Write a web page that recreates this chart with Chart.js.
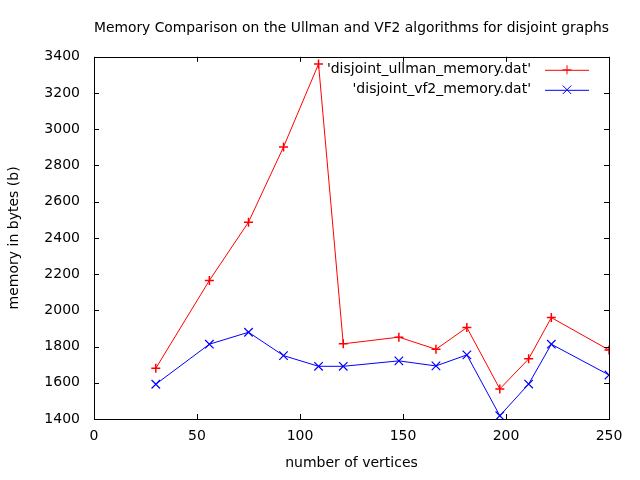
<!DOCTYPE html>
<html>
<head>
<meta charset="utf-8">
<script src="https://cdn.jsdelivr.net/npm/chart.js"></script>
<style>
  html, body { margin: 0; padding: 0; background: #fff; }
  #wrap { width: 640px; height: 480px; }
</style>
</head>
<body>
<div id="wrap"><canvas id="memChart" width="640" height="480"></canvas></div>
<script>
// number of vertices for each run
const vertices = [30, 56, 75, 92, 109, 121, 148, 166, 181, 197, 211, 222, 250];
// memory in bytes
const ullmanMemory = [1680, 2165, 2487, 2902, 3360, 1815, 1852, 1785, 1905, 1566, 1732, 1960, 1781];
const vf2Memory = [1592, 1813, 1879, 1750, 1691, 1691, 1721, 1693, 1754, 1418, 1593, 1813, 1643];
const seriesLabels = ["'disjoint_ullman_memory.dat'", "'disjoint_vf2_memory.dat'"];

const FONT = 'DejaVu Sans';

function toPoints(xs, ys) {
    return xs.map((x, i) => ({ x: x, y: ys[i] }));
}

// gnuplot style: box around plot, ticks pointing inward on all sides, legend top right
const gnuplotFrame = {
    id: 'gnuplotFrame',
    afterDraw(chart) {
        const ctx = chart.ctx;
        const area = chart.chartArea;
        const xs = chart.scales.x;
        const ys = chart.scales.y;
        ctx.save();
        ctx.strokeStyle = '#000';
        ctx.lineWidth = 1;
        ctx.strokeRect(Math.round(area.left) + 0.5, Math.round(area.top) + 0.5,
            Math.round(area.right - area.left), Math.round(area.bottom - area.top));
        ctx.beginPath();
        xs.ticks.forEach(t => {
            const px = Math.round(xs.getPixelForValue(t.value)) + 0.5;
            ctx.moveTo(px, area.bottom); ctx.lineTo(px, area.bottom - 5);
            ctx.moveTo(px, area.top); ctx.lineTo(px, area.top + 5);
        });
        ys.ticks.forEach(t => {
            const py = Math.round(ys.getPixelForValue(t.value)) + 0.5;
            ctx.moveTo(area.left, py); ctx.lineTo(area.left + 5, py);
            ctx.moveTo(area.right, py); ctx.lineTo(area.right - 5, py);
        });
        ctx.stroke();

        // legend
        ctx.font = '14px "' + FONT + '"';
        ctx.textAlign = 'right';
        ctx.textBaseline = 'middle';
        chart.data.datasets.forEach((ds, i) => {
            const y = area.top + 13 + i * 20;
            ctx.fillStyle = '#000';
            ctx.fillText(ds.label, area.right - 78, y);
            ctx.strokeStyle = ds.borderColor;
            ctx.beginPath();
            ctx.moveTo(area.right - 64, y + 0.5);
            ctx.lineTo(area.right - 20, y + 0.5);
            ctx.stroke();
            Chart.helpers.drawPoint(ctx, {
                pointStyle: ds.pointStyle, radius: ds.pointRadius, borderWidth: 1
            }, area.right - 42, y);
        });
        ctx.restore();
    }
};

new Chart(document.getElementById('memChart'), {
    type: 'line',
    data: {
        datasets: [{
            label: seriesLabels[0],
            data: toPoints(vertices, ullmanMemory),
            borderColor: '#ff0000',
            backgroundColor: '#ff0000',
            borderWidth: 1,
            pointStyle: 'cross',
            pointRadius: 4.5,
            pointBorderWidth: 1.5,
            tension: 0
        }, {
            label: seriesLabels[1],
            data: toPoints(vertices, vf2Memory),
            borderColor: '#0000ff',
            backgroundColor: '#0000ff',
            borderWidth: 1,
            pointStyle: 'crossRot',
            pointRadius: 6,
            pointBorderWidth: 1.2,
            tension: 0
        }]
    },
    options: {
        responsive: false,
        animation: false,
        layout: { padding: { left: 0, right: 31, top: 0, bottom: 0 } },
        plugins: {
            legend: { display: false },
            tooltip: { enabled: false },
            title: {
                display: true,
                fullSize: false,
                text: 'Memory Comparison on the Ullman and VF2 algorithms for disjoint graphs',
                color: '#000',
                font: { family: FONT, size: 14, weight: 'normal' },
                padding: { top: 20, bottom: 20 }
            }
        },
        scales: {
            x: {
                type: 'linear',
                min: 0,
                max: 250,
                ticks: {
                    stepSize: 50, color: '#000', padding: 9, font: { family: FONT, size: 14 },
                    callback: v => String(v)
                },
                grid: { display: false, drawTicks: false },
                border: { display: false },
                title: {
                    display: true, text: 'number of vertices', color: '#000',
                    font: { family: FONT, size: 14 }, padding: { top: 4, bottom: 8 }
                },
                afterFit(scale) { scale.height = 61; }
            },
            y: {
                min: 1400,
                max: 3400,
                ticks: {
                    stepSize: 200, color: '#000', padding: 14, font: { family: FONT, size: 14 },
                    callback: v => String(v)
                },
                grid: { display: false, drawTicks: false },
                border: { display: false },
                title: {
                    display: true, text: 'memory in bytes (b)', color: '#000',
                    font: { family: FONT, size: 14 }, padding: { top: 6, bottom: 4 }
                },
                afterFit(scale) { scale.width = 94; }
            }
        }
    },
    plugins: [gnuplotFrame]
});
</script>
</body>
</html>
